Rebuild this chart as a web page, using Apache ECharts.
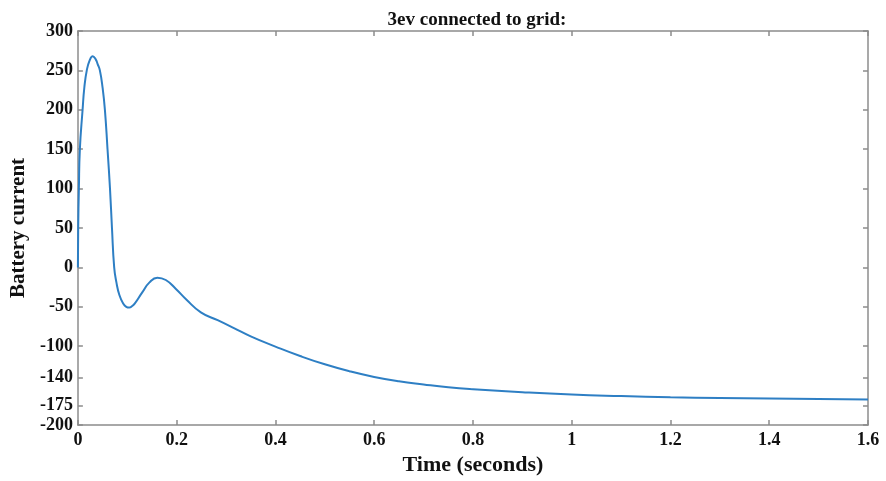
<!DOCTYPE html>
<html>
<head>
<meta charset="utf-8">
<script src="https://cdn.jsdelivr.net/npm/echarts@6/dist/echarts.min.js"></script>
<style>html,body{margin:0;padding:0;background:#fff}#c{width:886px;height:481px}</style>
</head>
<body>
<div id="c"></div>
<script>
const timeValues = [0,0.0006,0.002,0.004,0.0095,0.013,0.018,0.024,0.030,0.036,0.040,0.0445,0.05,0.0547,0.060,0.065,0.069,0.0735,0.078,0.084,0.092,0.098,0.104,0.110,0.115,0.13,0.145,0.161,0.178,0.198,0.22,0.249,0.283,0.316,0.35,0.4,0.45,0.5,0.55,0.6,0.65,0.7,0.75,0.8,0.9,1.0,1.1,1.2,1.3,1.4,1.5,1.6];
const currentValues = [0,50,100,150,200,228,250,263,268,264,258,250,228,200,150,100,50,0,-19,-35,-46,-50,-51,-49,-46,-32,-19,-13,-16,-27,-41,-57,-67,-77,-87.5,-100.5,-112.5,-123,-131.8,-139,-144.5,-148.5,-152,-154.5,-158.3,-161.3,-163.3,-164.9,-165.8,-166.5,-167.1,-167.6];
const xTicks = [0,0.2,0.4,0.6,0.8,1,1.2,1.4,1.6];
const yTicks = [300,250,200,150,100,50,0,-50,-100,-140,-175,-200];

const font = 'Liberation Serif';
const axisColor = '#8c8c8c';
const chart = echarts.init(document.getElementById('c'));
const data = timeValues.map((t,i)=>[t,currentValues[i]]);
const baseX = {
  type:'value', min:0, max:1.6, interval:0.2,
  axisLine:{show:true,onZero:false,lineStyle:{color:axisColor,width:1.5}},
  axisTick:{show:true,inside:true,length:5,customValues:xTicks,lineStyle:{color:axisColor,width:1.5}},
  splitLine:{show:false}
};
const baseY = {
  type:'value', min:-200, max:300,
  axisLine:{show:true,onZero:false,lineStyle:{color:axisColor,width:1.5}},
  axisTick:{show:true,inside:true,length:5,customValues:yTicks,lineStyle:{color:axisColor,width:1.5}},
  splitLine:{show:false}
};
chart.setOption({
  animation:false,
  title:{text:'3ev connected to grid:',left:472,textAlign:'center',top:6,
    textStyle:{fontFamily:font,fontWeight:'bold',fontSize:19,color:'#111'}},
  grid:{left:77,right:18,top:31,bottom:53,containLabel:false},
  xAxis:[
    Object.assign({},baseX,{position:'bottom',name:'Time (seconds)',nameLocation:'middle',nameGap:29,
      nameTextStyle:{fontFamily:font,fontWeight:'bold',fontSize:22,color:'#111'},
      axisLabel:{show:true,margin:6,customValues:xTicks,fontFamily:font,fontWeight:'bold',fontSize:18,color:'#111',
        formatter:v=>String(Math.round(v*10)/10)}}),
    Object.assign({},baseX,{position:'top',axisLabel:{show:false}})
  ],
  yAxis:[
    Object.assign({},baseY,{position:'left',name:'Battery current',nameLocation:'middle',nameGap:48,
      nameTextStyle:{fontFamily:font,fontWeight:'bold',fontSize:21,color:'#111'},
      axisLabel:{show:true,margin:5,customValues:yTicks,fontFamily:font,fontWeight:'bold',fontSize:18,color:'#111'}}),
    Object.assign({},baseY,{position:'right',axisLabel:{show:false}})
  ],
  series:[{type:'line',data:data,smooth:0.5,showSymbol:false,
    lineStyle:{color:'#2e7fc4',width:2},xAxisIndex:0,yAxisIndex:0}]
});
</script>
</body>
</html>
